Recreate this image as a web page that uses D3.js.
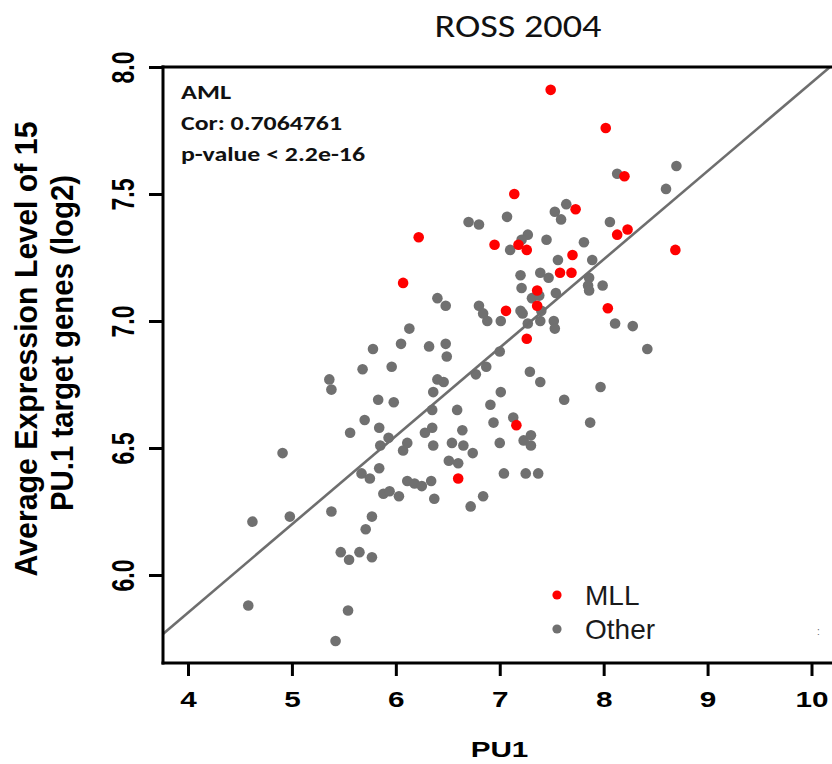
<!DOCTYPE html>
<html>
<head>
<meta charset="utf-8">
<script src="https://cdn.jsdelivr.net/npm/d3@7"></script>
<style>
  body { margin: 0; background: #fff; }
  svg { display: block; }
</style>
</head>
<body>
<div id="viz"></div>
<script>
/* global d3 */
(function rossScatter() {
  const svgWidth = 832;
  const svgHeight = 764;
  const plot = { left: 163, top: 67, bottom: 663, right: 836 };
  const stretch = 1.35; // R text in the picture is widened sideways

  const redColor = '#FF0000';
  const greyColor = '#707070';
  const lineColor = '#6E6E6E';
  const blackColor = '#000000';
  const rFont = '"Liberation Sans", Arial, sans-serif';
  const officeFont = 'Carlito, Calibri, Lato, sans-serif';

  // [PU1, average expression (log2)]
  const mllPoints = [
    [6.22, 7.33], [6.95, 7.30], [7.49, 7.91], [8.02, 7.76], [8.20, 7.57], [7.14, 7.50],
    [7.73, 7.44], [8.23, 7.36], [8.13, 7.34], [7.18, 7.30], [7.26, 7.28], [7.70, 7.26],
    [8.69, 7.28], [7.58, 7.19], [7.69, 7.19], [7.36, 7.12], [7.36, 7.06], [7.06, 7.04],
    [8.04, 7.05], [7.26, 6.93], [7.16, 6.59], [6.60, 6.38], [6.07, 7.15],
  ];

  const otherPoints = [
    [6.70, 7.39], [6.80, 7.38], [8.13, 7.58], [8.70, 7.61], [8.60, 7.52], [7.64, 7.46],
    [7.53, 7.43], [7.59, 7.40], [7.07, 7.41], [8.06, 7.39], [7.27, 7.34], [7.21, 7.32],
    [7.45, 7.32], [7.81, 7.31], [7.10, 7.28], [7.56, 7.24], [7.89, 7.24], [7.20, 7.18],
    [7.39, 7.19], [7.47, 7.17], [7.86, 7.17], [7.85, 7.14], [7.86, 7.12], [7.99, 7.14],
    [7.21, 7.13], [7.54, 7.11], [7.31, 7.09], [7.38, 7.10], [7.20, 7.04], [7.22, 7.03],
    [7.40, 7.04], [7.39, 7.00], [7.27, 6.99], [7.52, 7.00], [7.53, 6.97], [7.01, 7.00],
    [6.80, 7.06], [6.84, 7.03], [6.88, 7.00], [6.48, 7.06], [8.11, 6.99], [8.28, 6.98],
    [8.42, 6.89], [7.00, 6.88], [6.87, 6.82], [6.77, 6.79], [6.48, 6.91], [6.49, 6.86],
    [6.46, 6.76], [7.29, 6.80], [7.39, 6.76], [7.97, 6.74], [7.01, 6.72], [7.62, 6.69],
    [6.91, 6.67], [6.59, 6.65], [7.13, 6.62], [6.94, 6.60], [7.87, 6.60], [6.64, 6.57],
    [6.54, 6.52], [6.65, 6.51], [7.00, 6.52], [7.23, 6.53], [7.30, 6.55], [7.30, 6.51],
    [6.74, 6.48], [6.51, 6.45], [6.60, 6.44], [7.04, 6.40], [7.25, 6.40], [7.37, 6.40],
    [6.84, 6.31], [6.72, 6.27], [4.91, 6.48], [5.85, 6.51], [6.11, 6.52], [6.07, 6.49],
    [6.36, 6.51], [5.84, 6.42], [5.67, 6.40], [5.75, 6.38], [6.11, 6.37], [6.18, 6.36],
    [6.25, 6.35], [6.34, 6.37], [5.88, 6.32], [5.94, 6.33], [6.03, 6.31], [6.37, 6.30],
    [5.38, 6.25], [5.77, 6.23], [5.71, 6.18], [4.62, 6.21], [4.98, 6.23], [5.47, 6.09],
    [5.55, 6.06], [5.65, 6.09], [5.77, 6.07], [4.58, 5.88], [5.54, 5.86], [5.42, 5.74],
    [6.40, 7.09], [6.13, 6.97], [5.78, 6.89], [6.05, 6.91], [6.32, 6.90], [5.96, 6.82],
    [5.68, 6.81], [5.36, 6.77], [5.38, 6.73], [6.40, 6.77], [6.36, 6.72], [5.83, 6.69],
    [5.98, 6.68], [6.35, 6.65], [5.70, 6.61], [5.84, 6.58], [5.56, 6.56], [5.93, 6.54],
    [6.28, 6.56], [6.35, 6.58],
  ];

  const xTicks = [4, 5, 6, 7, 8, 9, 10];
  const yTicks = [6.0, 6.5, 7.0, 7.5, 8.0];
  const fit = { intercept: 4.461, slope: 0.3477 };
  const statLines = ['AML', 'Cor: 0.7064761', 'p-value < 2.2e-16'];
  const statWidths = [50, 161, 184];
  const legendItems = [
    { label: 'MLL', color: redColor },
    { label: 'Other', color: greyColor },
  ];

  const x = d3.scaleLinear().domain([4, 10]).range([188, 811.5]);
  const y = d3.scaleLinear().domain([6, 8]).range([575, 67]);

  const svg = d3.select('#viz').append('svg')
    .attr('width', svgWidth)
    .attr('height', svgHeight);

  svg.append('defs').append('clipPath')
    .attr('id', 'plot-clip')
    .append('rect')
    .attr('x', plot.left)
    .attr('y', plot.top)
    .attr('width', plot.right - plot.left)
    .attr('height', plot.bottom - plot.top);

  // Title
  svg.append('text')
    .text('ROSS 2004')
    .attr('x', 518)
    .attr('y', 37)
    .attr('text-anchor', 'middle')
    .attr('textLength', 167)
    .attr('lengthAdjust', 'spacingAndGlyphs')
    .style('font-family', officeFont)
    .style('font-size', '33px')
    .style('fill', '#111');

  // Points
  const points = svg.append('g').attr('clip-path', 'url(#plot-clip)');

  points.selectAll('circle.other')
    .data(otherPoints)
    .enter()
    .append('circle')
    .attr('class', 'other')
    .attr('cx', d => x(d[0]))
    .attr('cy', d => y(d[1]))
    .attr('r', 5.3)
    .style('fill', greyColor);

  points.selectAll('circle.mll')
    .data(mllPoints)
    .enter()
    .append('circle')
    .attr('class', 'mll')
    .attr('cx', d => x(d[0]))
    .attr('cy', d => y(d[1]))
    .attr('r', 5.3)
    .style('fill', redColor);

  // Fit line
  const fitRange = [x.invert(plot.left), x.invert(plot.right)];
  points.append('line')
    .attr('x1', x(fitRange[0]))
    .attr('y1', y(fit.intercept + fit.slope * fitRange[0]))
    .attr('x2', x(fitRange[1]))
    .attr('y2', y(fit.intercept + fit.slope * fitRange[1]))
    .attr('stroke', lineColor)
    .attr('stroke-width', 2.6);

  // Axes
  const yAxis = svg.append('g')
    .attr('transform', `translate(${plot.left}, 0)`)
    .call(d3.axisLeft(y).tickValues(yTicks).tickSize(14).tickFormat(d3.format('.1f')));

  const xAxis = svg.append('g')
    .attr('transform', `translate(0, ${plot.bottom})`)
    .call(d3.axisBottom(x).tickValues(xTicks).tickSize(13).tickFormat(d3.format('d')));

  [yAxis, xAxis].forEach((axis) => {
    axis.select('.domain').remove();
    axis.selectAll('.tick line')
      .attr('stroke', blackColor)
      .attr('stroke-width', 3);
    axis.selectAll('.tick text')
      .attr('x', null)
      .attr('y', null)
      .attr('dy', null)
      .attr('text-anchor', 'middle')
      .style('font-family', rFont)
      .style('font-weight', 'bold')
      .style('font-size', '22px')
      .style('fill', blackColor);
  });

  yAxis.selectAll('.tick text')
    .style('font-size', '23px')
    .attr('transform', `translate(-29, 0) scale(1.4, 1) rotate(-90)`);

  xAxis.selectAll('.tick text')
    .attr('transform', `translate(0, 44) scale(${stretch}, 1)`);

  const frame = svg.append('g')
    .attr('stroke', blackColor)
    .attr('stroke-width', 3)
    .attr('stroke-linecap', 'square');

  frame.append('line')
    .attr('x1', plot.left).attr('y1', plot.top)
    .attr('x2', plot.left).attr('y2', plot.bottom);
  frame.append('line')
    .attr('x1', plot.left).attr('y1', plot.bottom)
    .attr('x2', svgWidth).attr('y2', plot.bottom);
  frame.append('line')
    .attr('x1', plot.left).attr('y1', plot.top)
    .attr('x2', svgWidth).attr('y2', plot.top);

  // Axis titles
  svg.append('text')
    .text('PU1')
    .attr('transform', `translate(${(plot.left + plot.right) / 2}, 757) scale(${stretch}, 1)`)
    .attr('text-anchor', 'middle')
    .style('font-family', rFont)
    .style('font-weight', 'bold')
    .style('font-size', '22px')
    .style('fill', blackColor);

  const yTitle = ['Average Expression Level of 15', 'PU.1 target genes (log2)'];
  const yTitlePos = [{ x: 37, y: 349, len: 455 }, { x: 73, y: 343, len: 336 }];
  svg.selectAll('text.ytitle')
    .data(yTitle)
    .enter()
    .append('text')
    .attr('class', 'ytitle')
    .text(d => d)
    .attr('transform', (d, i) => `translate(${yTitlePos[i].x}, ${yTitlePos[i].y}) scale(1.1, 1) rotate(-90)`)
    .attr('text-anchor', 'middle')
    .attr('textLength', (d, i) => yTitlePos[i].len)
    .attr('lengthAdjust', 'spacingAndGlyphs')
    .style('font-family', rFont)
    .style('font-weight', 'bold')
    .style('font-size', '28px')
    .style('fill', blackColor);

  // Stats note
  svg.selectAll('text.stat')
    .data(statLines)
    .enter()
    .append('text')
    .attr('class', 'stat')
    .text(d => d)
    .attr('x', 181)
    .attr('y', (d, i) => 99 + i * 31)
    .attr('textLength', (d, i) => statWidths[i])
    .attr('lengthAdjust', 'spacingAndGlyphs')
    .style('font-family', officeFont)
    .style('font-weight', 'bold')
    .style('font-size', '21px')
    .style('fill', '#111');

  // Legend
  const legend = svg.append('g')
    .attr('transform', 'translate(557, 595)');

  const legendRows = legend.selectAll('g')
    .data(legendItems)
    .enter()
    .append('g')
    .attr('transform', (d, i) => `translate(0, ${i * 34})`);

  legendRows.append('circle')
    .attr('r', 4.6)
    .style('fill', d => d.color);

  legendRows.append('text')
    .text(d => d.label)
    .attr('x', 28)
    .attr('y', 10)
    .style('font-family', rFont)
    .style('font-size', '28px')
    .style('fill', '#1a1a1a');

  svg.append('text')
    .text(':')
    .attr('x', 817)
    .attr('y', 635)
    .style('font-family', rFont)
    .style('font-size', '10px')
    .style('fill', '#666');
}());
</script>
</body>
</html>
